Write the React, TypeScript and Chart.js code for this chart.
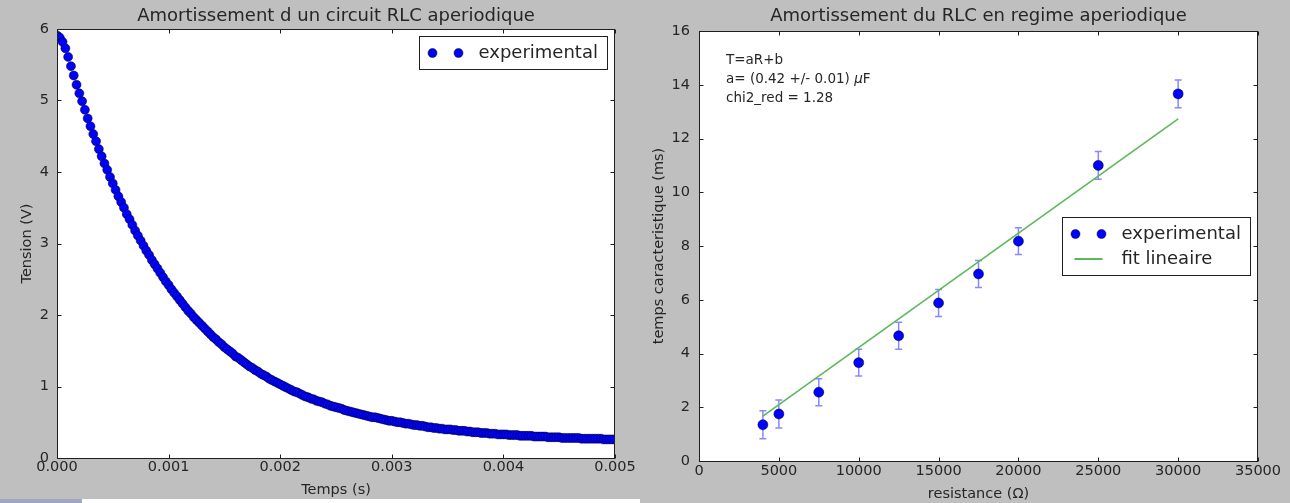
import React, { useEffect, useRef } from "react";
import { Chart, registerables } from "chart.js";

Chart.register(...registerables);

const FONT = "'DejaVu Sans', 'Liberation Sans', sans-serif";
const TEXT = "#262626";

// ---------- Left chart data ----------
const timeStep = 0.000025; // s between samples
const tensionValues = [
  5.91, 5.88, 5.82, 5.73, 5.61, 5.48, 5.35, 5.22, 5.10, 4.99,
  4.87, 4.75, 4.64, 4.53, 4.43, 4.32, 4.22, 4.12, 4.03, 3.93,
  3.84, 3.75, 3.66, 3.58, 3.50, 3.41, 3.34, 3.26, 3.18, 3.11,
  3.04, 2.97, 2.90, 2.84, 2.77, 2.71, 2.65, 2.59, 2.53, 2.47,
  2.42, 2.36, 2.31, 2.26, 2.21, 2.16, 2.11, 2.06, 2.02, 1.97,
  1.93, 1.89, 1.85, 1.81, 1.77, 1.73, 1.69, 1.66, 1.62, 1.59,
  1.55, 1.52, 1.49, 1.46, 1.42, 1.40, 1.37, 1.34, 1.31, 1.28,
  1.26, 1.23, 1.21, 1.18, 1.16, 1.14, 1.11, 1.09, 1.07, 1.05,
  1.03, 1.01, 0.99, 0.97, 0.95, 0.93, 0.92, 0.90, 0.88, 0.86,
  0.85, 0.83, 0.82, 0.80, 0.79, 0.78, 0.76, 0.75, 0.73, 0.72,
  0.71, 0.70, 0.69, 0.67, 0.66, 0.65, 0.64, 0.63, 0.62, 0.61,
  0.60, 0.59, 0.58, 0.57, 0.57, 0.56, 0.55, 0.54, 0.53, 0.52,
  0.52, 0.51, 0.50, 0.50, 0.49, 0.48, 0.48, 0.47, 0.46, 0.46,
  0.45, 0.45, 0.44, 0.43, 0.43, 0.42, 0.42, 0.41, 0.41, 0.40,
  0.40, 0.40, 0.39, 0.39, 0.38, 0.38, 0.38, 0.37, 0.37, 0.36,
  0.36, 0.36, 0.35, 0.35, 0.35, 0.34, 0.34, 0.34, 0.33, 0.33,
  0.33, 0.33, 0.32, 0.32, 0.32, 0.32, 0.31, 0.31, 0.31, 0.31,
  0.31, 0.30, 0.30, 0.30, 0.30, 0.30, 0.29, 0.29, 0.29, 0.29,
  0.29, 0.28, 0.28, 0.28, 0.28, 0.28, 0.28, 0.28, 0.27, 0.27,
  0.27, 0.27, 0.27, 0.27, 0.27, 0.27, 0.26, 0.26, 0.26, 0.26,
  0.26,
];
const tempsTicks = [0, 0.001, 0.002, 0.003, 0.004, 0.005];
const tensionTicks = [0, 1, 2, 3, 4, 5, 6];

// ---------- Right chart data ----------
const resistances = [4000, 5000, 7500, 10000, 12500, 15000, 17500, 20000, 25000, 30000];
const tauValues = [1.35, 1.75, 2.56, 3.66, 4.66, 5.88, 6.96, 8.18, 11.0, 13.66];
const tauErrors = [0.52, 0.52, 0.5, 0.5, 0.5, 0.5, 0.5, 0.5, 0.52, 0.52];
const fitR = [4000, 30000];
const fitTau = [1.67, 12.73];
const resistanceTicks = [0, 5000, 10000, 15000, 20000, 25000, 30000, 35000];
const tauTicks = [0, 2, 4, 6, 8, 10, 12, 14, 16];

const BLUE = "#0000ff";
const GREEN = "#5cb85c";
const ERR = "rgba(40,40,255,0.55)";

const TICK_SIZE = 14.5;
const LABEL_SIZE = 14.5;
const TITLE_SIZE = 18;
const LEGEND_SIZE = 18;
const NOTE_SIZE = 13.5;

type LegendItem = { label: string; kind: "marker" | "line"; color: string };
type DecorCfg = {
  title: string;
  xLabel: string;
  yLabel: string;
  xLabelY: number;
  yLabelX: number;
  markerR: number;
  legend: { items: LegendItem[]; width: number; vCenter: boolean };
  annotation?: boolean;
  errors?: { xs: number[]; ys: number[]; es: number[] };
};

function makeDecor(cfg: DecorCfg) {
  return {
    id: "mplDecor",
    beforeDraw(chart: any) {
      const { ctx, chartArea: a } = chart;
      ctx.save();
      ctx.fillStyle = "#ffffff";
      ctx.fillRect(a.left, a.top, a.right - a.left, a.bottom - a.top);
      ctx.restore();
    },
    beforeDatasetsDraw(chart: any) {
      if (!cfg.errors) return;
      const { ctx, scales } = chart;
      const xs = scales.x;
      const ys = scales.y;
      ctx.save();
      ctx.strokeStyle = ERR;
      ctx.lineWidth = 1.5;
      cfg.errors.xs.forEach((xv, i) => {
        const px = xs.getPixelForValue(xv);
        const top = ys.getPixelForValue(cfg.errors!.ys[i] + cfg.errors!.es[i]);
        const bot = ys.getPixelForValue(cfg.errors!.ys[i] - cfg.errors!.es[i]);
        ctx.beginPath();
        ctx.moveTo(px, top);
        ctx.lineTo(px, bot);
        ctx.moveTo(px - 3.5, top);
        ctx.lineTo(px + 3.5, top);
        ctx.moveTo(px - 3.5, bot);
        ctx.lineTo(px + 3.5, bot);
        ctx.stroke();
      });
      ctx.restore();
    },
    afterDraw(chart: any) {
      const { ctx, chartArea: a, scales } = chart;
      const xs = scales.x;
      const ys = scales.y;
      ctx.save();
      // frame
      const L = Math.floor(a.left) + 0.5;
      const R = Math.floor(a.right) - 0.5;
      const T = Math.floor(a.top) + 0.5;
      const B = Math.floor(a.bottom) + 0.5;
      ctx.strokeStyle = "#1f1f1f";
      ctx.lineWidth = 1;
      ctx.strokeRect(L, T, R - L, B - T);
      // inner ticks
      ctx.beginPath();
      xs.ticks.forEach((t: any) => {
        const p = Math.round(xs.getPixelForValue(t.value)) + 0.5;
        ctx.moveTo(p, B);
        ctx.lineTo(p, B - 4);
        ctx.moveTo(p, T);
        ctx.lineTo(p, T + 4);
      });
      ys.ticks.forEach((t: any) => {
        const p = Math.round(ys.getPixelForValue(t.value)) + 0.5;
        ctx.moveTo(L, p);
        ctx.lineTo(L + 4, p);
        ctx.moveTo(R, p);
        ctx.lineTo(R - 4, p);
      });
      ctx.stroke();

      ctx.fillStyle = TEXT;
      // title
      ctx.font = `${TITLE_SIZE}px ${FONT}`;
      ctx.textAlign = "center";
      ctx.textBaseline = "middle";
      ctx.fillText(cfg.title, (a.left + a.right) / 2, 16);
      // x label
      ctx.font = `${LABEL_SIZE}px ${FONT}`;
      ctx.fillText(cfg.xLabel, (a.left + a.right) / 2, cfg.xLabelY);
      // y label
      ctx.save();
      ctx.translate(cfg.yLabelX, (a.top + a.bottom) / 2);
      ctx.rotate(-Math.PI / 2);
      ctx.fillText(cfg.yLabel, 0, 0);
      ctx.restore();

      // annotation
      if (cfg.annotation) {
        ctx.font = `${NOTE_SIZE}px ${FONT}`;
        ctx.textAlign = "left";
        const x0 = a.left + 27;
        ctx.fillText("T=aR+b", x0, a.top + 29);
        const p1 = "a= (0.42 +/- 0.01) ";
        ctx.fillText(p1, x0, a.top + 48);
        let w = ctx.measureText(p1).width;
        ctx.font = `italic ${NOTE_SIZE}px ${FONT}`;
        ctx.fillText("\u03bc", x0 + w, a.top + 48);
        w += ctx.measureText("\u03bc").width;
        ctx.font = `${NOTE_SIZE}px ${FONT}`;
        ctx.fillText("F", x0 + w, a.top + 48);
        ctx.fillText("chi2_red = 1.28", x0, a.top + 67);
      }

      // legend
      const lg = cfg.legend;
      const rowH = 25;
      const padV = 4;
      const h = padV * 2 + lg.items.length * rowH;
      const bx = Math.round(a.right - 8 - lg.width) + 0.5;
      const by = lg.vCenter ? Math.round((a.top + a.bottom) / 2 - h / 2) + 0.5 : Math.round(a.top + 7) + 0.5;
      ctx.fillStyle = "#ffffff";
      ctx.fillRect(bx, by, lg.width, h);
      ctx.strokeStyle = "#1f1f1f";
      ctx.lineWidth = 1;
      ctx.strokeRect(bx, by, lg.width, h);
      lg.items.forEach((it, i) => {
        const cy = by + padV + rowH * i + rowH / 2;
        if (it.kind === "marker") {
          [bx + 13, bx + 39].forEach((mx) => {
            ctx.beginPath();
            ctx.arc(mx, cy, cfg.markerR, 0, Math.PI * 2);
            ctx.fillStyle = it.color;
            ctx.fill();
            ctx.lineWidth = 0.5;
            ctx.strokeStyle = "#000";
            ctx.stroke();
          });
        } else {
          ctx.beginPath();
          ctx.moveTo(bx + 12, cy);
          ctx.lineTo(bx + 40, cy);
          ctx.strokeStyle = it.color;
          ctx.lineWidth = 2;
          ctx.stroke();
        }
        ctx.fillStyle = TEXT;
        ctx.font = `${LEGEND_SIZE}px ${FONT}`;
        ctx.textAlign = "left";
        ctx.textBaseline = "middle";
        ctx.fillText(it.label, bx + 59, cy);
      });
      ctx.restore();
    },
  };
}

function axisBase(tickValues: number[], fmt: (v: number) => string, pad: number, size: { w?: number; h?: number }, min: number, max: number) {
  return {
    type: "linear" as const,
    min,
    max,
    grid: { display: false, drawTicks: false },
    border: { display: false },
    ticks: {
      color: TEXT,
      font: { family: FONT, size: TICK_SIZE },
      padding: pad,
      autoSkip: false,
      maxRotation: 0,
      callback: (v: any) => fmt(Number(v)),
    },
    afterBuildTicks: (scale: any) => {
      scale.ticks = tickValues.map((v) => ({ value: v }));
    },
    afterFit: (scale: any) => {
      if (size.w !== undefined) scale.width = size.w;
      if (size.h !== undefined) scale.height = size.h;
    },
  };
}

function LeftChart() {
  const ref = useRef<HTMLCanvasElement>(null);
  useEffect(() => {
    if (!ref.current) return;
    const pts = tensionValues.map((v, i) => ({ x: i * timeStep, y: v }));
    const chart = new Chart(ref.current, {
      type: "scatter",
      data: {
        datasets: [
          {
            label: "experimental",
            data: pts,
            pointRadius: 4.5,
            pointBackgroundColor: BLUE,
            pointBorderColor: "#000",
            pointBorderWidth: 0.5,
            showLine: false,
            clip: 0,
          } as any,
        ],
      },
      options: {
        responsive: false,
        animation: false,
        events: [],
        layout: { padding: { top: 29, right: 25, left: 0, bottom: 0 } },
        plugins: { legend: { display: false }, title: { display: false }, tooltip: { enabled: false } },
        scales: {
          x: axisBase(tempsTicks, (v) => v.toFixed(3), 1, { h: 45 }, 0, 0.005) as any,
          y: axisBase(tensionTicks, (v) => String(v), 8, { w: 57 }, 0, 6) as any,
        },
      },
      plugins: [
        makeDecor({
          title: "Amortissement d un circuit RLC aperiodique",
          xLabel: "Temps (s)",
          yLabel: "Tension (V)",
          xLabelY: 490,
          yLabelX: 27,
          markerR: 4.5,
          legend: { items: [{ label: "experimental", kind: "marker", color: BLUE }], width: 188, vCenter: false },
        }) as any,
      ],
    });
    return () => chart.destroy();
  }, []);
  return <canvas ref={ref} width={640} height={503} style={{ position: "absolute", left: 0, top: 0 }} />;
}

function RightChart() {
  const ref = useRef<HTMLCanvasElement>(null);
  useEffect(() => {
    if (!ref.current) return;
    const chart = new Chart(ref.current, {
      type: "scatter",
      data: {
        datasets: [
          {
            label: "experimental",
            data: resistances.map((r, i) => ({ x: r, y: tauValues[i] })),
            pointRadius: 5,
            pointBackgroundColor: BLUE,
            pointBorderColor: "#000",
            pointBorderWidth: 0.5,
            showLine: false,
            order: 1,
          } as any,
          {
            label: "fit lineaire",
            data: fitR.map((r, i) => ({ x: r, y: fitTau[i] })),
            showLine: true,
            borderColor: GREEN,
            borderWidth: 1.6,
            pointRadius: 0,
            order: 2,
          } as any,
        ],
      },
      options: {
        responsive: false,
        animation: false,
        events: [],
        layout: { padding: { top: 31, right: 32, left: 0, bottom: 0 } },
        plugins: { legend: { display: false }, title: { display: false }, tooltip: { enabled: false } },
        scales: {
          x: axisBase(resistanceTicks, (v) => String(v), 2, { h: 42 }, 0, 35000) as any,
          y: axisBase(tauTicks, (v) => String(v), 9, { w: 59 }, 0, 16) as any,
        },
      },
      plugins: [
        makeDecor({
          title: "Amortissement du RLC en regime aperiodique",
          xLabel: "resistance (\u03a9)",
          yLabel: "temps caracteristique (ms)",
          xLabelY: 494,
          yLabelX: 19,
          markerR: 4.5,
          annotation: true,
          errors: { xs: resistances, ys: tauValues, es: tauErrors },
          legend: {
            items: [
              { label: "experimental", kind: "marker", color: BLUE },
              { label: "fit lineaire", kind: "line", color: GREEN },
            ],
            width: 188,
            vCenter: true,
          },
        }) as any,
      ],
    });
    return () => chart.destroy();
  }, []);
  return <canvas ref={ref} width={650} height={503} style={{ position: "absolute", left: 640, top: 0 }} />;
}

export default function App() {
  return (
    <div
      style={{
        position: "fixed",
        left: 0,
        top: 0,
        width: 1290,
        height: 503,
        background: "#bfbfbf",
        overflow: "hidden",
      }}
    >
      <LeftChart />
      <RightChart />
      <div style={{ position: "absolute", left: 0, top: 499, width: 82, height: 4, background: "#9ea8bd" }} />
      <div style={{ position: "absolute", left: 82, top: 499, width: 558, height: 4, background: "#ffffff" }} />
    </div>
  );
}
